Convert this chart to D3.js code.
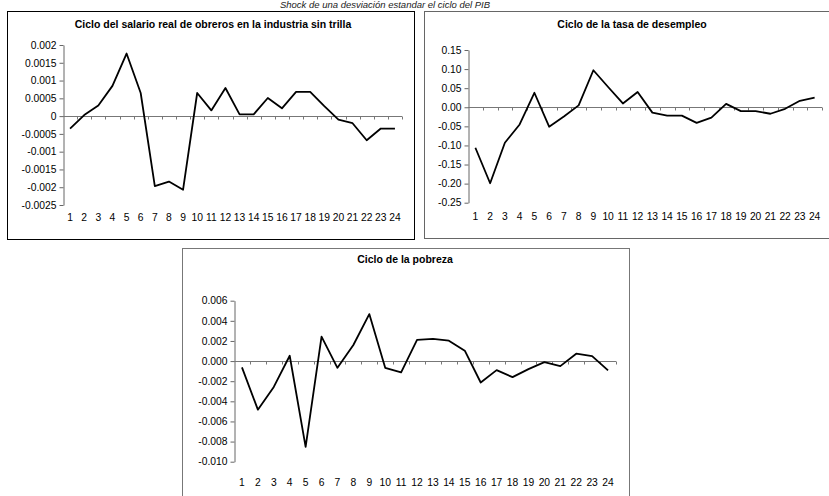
<!DOCTYPE html>
<html lang="es">
<head>
    <meta charset="UTF-8">
    <title>Shock de una desviación estandar el ciclo del PIB</title>
    <script src="https://cdn.jsdelivr.net/npm/d3@7"></script>
    <style>
        body{
            margin: 0;
            background: #fff;
            font-family: "Liberation Sans", Arial, sans-serif;
        }
        .tick text, .xlab{
            font-size: 10.3px;
            fill: #000;
        }
        .title{
            font-size: 10.5px;
            font-weight: bold;
        }
    </style>
</head>
<body>
<svg id="main" width="829" height="496"></svg>
<script>

    // periods on the x axis
    const categories = [1, 2, 3, 4, 5, 6, 7, 8, 9, 10, 11, 12,
        13, 14, 15, 16, 17, 18, 19, 20, 21, 22, 23, 24];

    // Ciclo del salario real de obreros en la industria sin trilla
    const salario = [-0.00035, 0.00003, 0.0003, 0.00085, 0.00176, 0.00065,
        -0.00197, -0.00184, -0.00207, 0.00065, 0.00016, 0.00079,
        0.00005, 0.00005, 0.00051, 0.00022, 0.00068, 0.00068,
        0.00028, -0.0001, -0.0002, -0.00068, -0.00035, -0.00035];
    const salarioTicks = [0.002, 0.0015, 0.001, 0.0005, 0, -0.0005, -0.001, -0.0015, -0.002, -0.0025];

    // Ciclo de la tasa de desempleo
    const desempleo = [-0.106, -0.199, -0.093, -0.045, 0.038, -0.051,
        -0.024, 0.005, 0.097, 0.053, 0.01, 0.04,
        -0.014, -0.022, -0.022, -0.041, -0.027, 0.009,
        -0.01, -0.01, -0.017, -0.004, 0.017, 0.025];
    const desempleoTicks = [0.15, 0.10, 0.05, 0, -0.05, -0.10, -0.15, -0.20, -0.25];

    // Ciclo de la pobreza
    const pobreza = [-0.00063, -0.00483, -0.00257, 0.00053, -0.00853, 0.00243,
        -0.00067, 0.0016, 0.00467, -0.00067, -0.00113, 0.0021,
        0.0022, 0.00203, 0.00103, -0.00213, -0.0009, -0.0016,
        -0.0008, -0.0001, -0.0005, 0.00073, 0.0005, -0.00093];
    const pobrezaTicks = [0.006, 0.004, 0.002, 0, -0.002, -0.004, -0.006, -0.008, -0.010];

    const svg = d3.select('svg#main');

    // overall title at the very top
    svg.append('text')
        .attr('x', 385)
        .attr('y', 8)
        .attr('text-anchor', 'middle')
        .style('font-size', '9.5px')
        .style('font-style', 'italic')
        .attr('fill', '#222')
        .text('Shock de una desviación estandar el ciclo del PIB');

    function drawPanel(opt) {
        const g = svg.append('g');

        // frame
        g.append('rect')
            .attr('x', opt.box[0] + 0.5).attr('y', opt.box[1] + 0.5)
            .attr('width', opt.box[2]).attr('height', opt.box[3])
            .attr('fill', '#fff')
            .attr('stroke', opt.frame)
            .attr('stroke-width', 1);

        g.append('text')
            .attr('class', 'title')
            .attr('x', opt.titlePos[0])
            .attr('y', opt.titlePos[1])
            .attr('text-anchor', 'middle')
            .attr('dominant-baseline', 'middle')
            .text(opt.title);

        const x = d3.scaleBand()
            .domain(categories)
            .range(opt.xRange);

        const ticks = opt.ticks;
        const y = d3.scaleLinear()
            .domain([ticks[ticks.length - 1], ticks[0]])
            .range(opt.yRange);

        // y axis
        const yAxis = d3.axisLeft(y)
            .tickValues(ticks)
            .tickSize(4)
            .tickSizeOuter(0)
            .tickPadding(3)
            .tickFormat(opt.fmt);
        const ya = g.append('g')
            .attr('transform', `translate(${opt.xRange[0] + 0.5},0)`)
            .call(yAxis);
        ya.select('.domain').attr('stroke', '#666');
        ya.selectAll('.tick line').attr('stroke', '#666');

        // x axis at zero
        const y0 = Math.round(y(0)) + 0.5;
        g.append('line')
            .attr('x1', opt.xRange[0]).attr('x2', opt.xRange[1])
            .attr('y1', y0).attr('y2', y0)
            .attr('stroke', '#777');
        const bounds = categories.map(c => x(c)).concat([opt.xRange[1]]);
        g.selectAll('.xtick')
            .data(bounds.slice(1))
            .enter()
            .append('line')
            .attr('x1', d => Math.round(d) + 0.5).attr('x2', d => Math.round(d) + 0.5)
            .attr('y1', y0).attr('y2', y0 + 3)
            .attr('stroke', '#777');

        // category labels along the bottom
        g.selectAll('.xlab')
            .data(categories)
            .enter()
            .append('text')
            .attr('class', 'xlab')
            .attr('x', d => x(d) + x.bandwidth() / 2)
            .attr('y', opt.labelY)
            .attr('text-anchor', 'middle')
            .attr('dominant-baseline', 'middle')
            .text(d => d);

        const line = d3.line()
            .x((d, i) => x(categories[i]) + x.bandwidth() / 2)
            .y(d => y(d));

        g.append('path')
            .datum(opt.values)
            .attr('fill', 'none')
            .attr('stroke', '#000')
            .attr('stroke-width', 1.8)
            .attr('stroke-linejoin', 'round')
            .attr('d', line);
    }

    drawPanel({
        box: [7, 11, 407, 228], frame: '#000',
        title: 'Ciclo del salario real de obreros en la industria sin trilla',
        titlePos: [213, 25],
        xRange: [63, 402], yRange: [205, 45],
        ticks: salarioTicks,
        fmt: d => d === 0 ? '0' : String(+d.toFixed(4)),
        labelY: 218,
        values: salario
    });

    drawPanel({
        box: [424, 11, 420, 227], frame: '#666',
        title: 'Ciclo de la tasa de desempleo',
        titlePos: [632, 25],
        xRange: [468, 822], yRange: [202.7, 50],
        ticks: desempleoTicks,
        fmt: d => d.toFixed(2),
        labelY: 217,
        values: desempleo
    });

    drawPanel({
        box: [182, 248, 447, 260], frame: '#777',
        title: 'Ciclo de la pobreza',
        titlePos: [405, 260],
        xRange: [234, 616], yRange: [461.7, 300.7],
        ticks: pobrezaTicks,
        fmt: d => d.toFixed(3),
        labelY: 483,
        values: pobreza
    });

</script>
</body>
</html>
